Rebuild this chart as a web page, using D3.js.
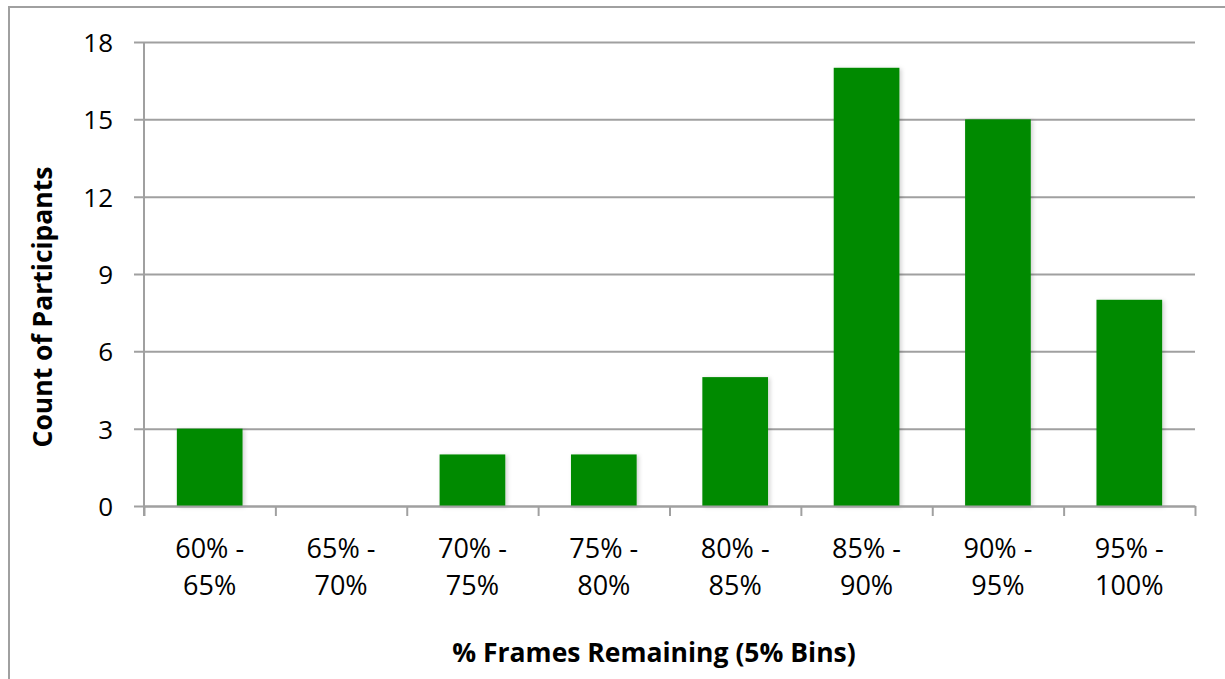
<!DOCTYPE html>
<html>
<head>
<meta charset="utf-8">
<script src="https://cdn.jsdelivr.net/npm/d3@7"></script>
<style>
  html, body { margin: 0; padding: 0; background: #fff; }
  svg { display: block; font-family: "Open Sans", Lato, sans-serif; }
</style>
</head>
<body>
<svg id="chart" width="1225" height="679"></svg>
<script>
// Histogram of participants by share of frames remaining
const binsTop = ["60% -", "65% -", "70% -", "75% -", "80% -", "85% -", "90% -", "95% -"];
const binsBottom = ["65%", "70%", "75%", "80%", "85%", "90%", "95%", "100%"];
const counts = [3, 0, 2, 2, 5, 17, 15, 8];
const yTicks = [0, 3, 6, 9, 12, 15, 18];

const svg = d3.select("#chart");
const margin = { left: 144, right: 30, top: 42, bottom: 173 };
const W = 1225, H = 679;
const innerW = W - margin.left - margin.right;
const innerH = H - margin.top - margin.bottom;
const FONT = "'Open Sans', Lato, sans-serif";

// outer frame
svg.append("rect")
  .attr("x", 9).attr("y", 7)
  .attr("width", W + 10).attr("height", H + 10)
  .attr("fill", "none").attr("stroke", "#a0a0a0").attr("stroke-width", 2);

const defs = svg.append("defs");
const f = defs.append("filter").attr("id", "shadow")
  .attr("x", "-20%").attr("y", "-20%").attr("width", "150%").attr("height", "150%");
f.append("feDropShadow").attr("dx", 2).attr("dy", 1).attr("stdDeviation", 2)
  .attr("flood-color", "#000").attr("flood-opacity", 0.18);

const g = svg.append("g").attr("transform", `translate(${margin.left},${margin.top})`);

const x = d3.scaleBand().domain(d3.range(counts.length)).range([0, innerW]).paddingInner(0.5).paddingOuter(0.25);
const xEdges = d3.scaleLinear().domain([0, counts.length]).range([0, innerW]);
const y = d3.scaleLinear().domain([0, 18]).range([innerH, 0]);

// horizontal gridlines + y axis
const yAxis = d3.axisLeft(y).tickValues(yTicks).tickSize(-innerW).tickSizeOuter(0).tickPadding(0);
const ya = g.append("g").call(yAxis);
ya.select(".domain").remove();
ya.selectAll(".tick line").attr("stroke", "#a0a0a0").attr("stroke-width", 2).attr("x1", -10);
ya.selectAll(".tick text")
  .attr("x", -31).attr("dy", "0.36em")
  .attr("font-size", 26).attr("fill", "#000")
  .style("font-family", FONT);

// bars
g.selectAll("rect.bar").data(counts).join("rect")
  .attr("class", "bar")
  .attr("x", (d, i) => x(i))
  .attr("width", x.bandwidth())
  .attr("y", d => y(d))
  .attr("height", d => innerH - y(d))
  .attr("fill", "#008a00")
  .attr("filter", "url(#shadow)");

// y axis line
g.append("line").attr("x1", 0).attr("x2", 0).attr("y1", 0).attr("y2", innerH + 10)
  .attr("stroke", "#a0a0a0").attr("stroke-width", 2);

// x axis with ticks at bin edges
const xa = g.append("g").attr("transform", `translate(0,${innerH})`)
  .call(d3.axisBottom(xEdges).tickValues(d3.range(counts.length + 1)).tickSize(10).tickSizeOuter(0).tickFormat(""));
xa.select(".domain").attr("stroke", "#a0a0a0").attr("stroke-width", 2);
xa.selectAll(".tick line").attr("stroke", "#a0a0a0").attr("stroke-width", 2);

// category labels, two lines each
const lab = g.append("g").selectAll("text").data(counts).join("text")
  .attr("text-anchor", "middle")
  .attr("font-size", 27)
  .attr("fill", "#000");
lab.append("tspan").attr("x", (d, i) => x(i) + x.bandwidth() / 2).attr("y", innerH + 52).text((d, i) => binsTop[i]);
lab.append("tspan").attr("x", (d, i) => x(i) + x.bandwidth() / 2).attr("y", innerH + 89).text((d, i) => binsBottom[i]);

// axis titles
svg.append("text")
  .attr("x", 654).attr("y", 662)
  .attr("text-anchor", "middle").attr("font-size", 26.5).attr("font-weight", "bold")
  .text("% Frames Remaining (5% Bins)");

svg.append("text")
  .attr("transform", "translate(52,307) rotate(-90)")
  .attr("text-anchor", "middle").attr("font-size", 26.5).attr("font-weight", "bold")
  .text("Count of Participants");
</script>
</body>
</html>
